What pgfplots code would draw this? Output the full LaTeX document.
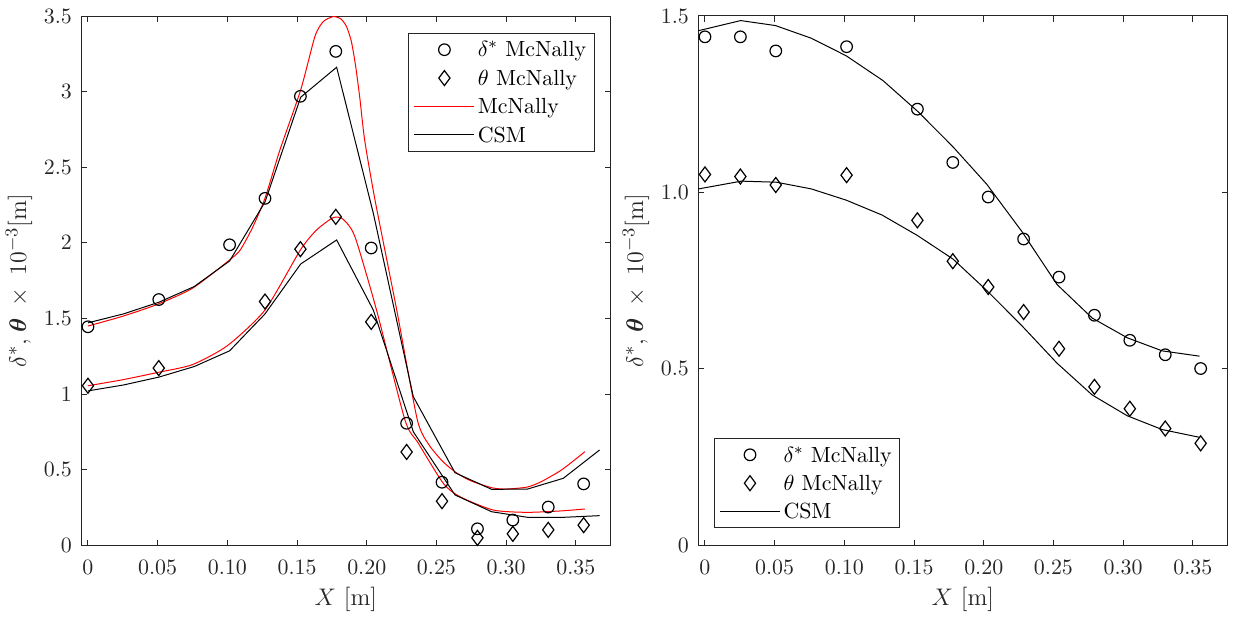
\documentclass[border=0pt]{standalone}
\usepackage{amsmath}
\usepackage{bm}
\usepackage{pgfplots}
\pgfplotsset{compat=1.18}
\definecolor{axgray}{gray}{0.15}
\pgfplotsset{
  mystyle/.style={
    width=264.85pt, height=264.65pt, scale only axis,
    xmin=-0.005, xmax=0.375, ymin=0,
    xtick={0,0.05,0.10,0.15,0.20,0.25,0.30,0.35},
    xticklabels={0,0.05,0.10,0.15,0.20,0.25,0.30,0.35},
    tick align=inside, major tick length=2.8pt,
    axis line style={axgray, line width=0.5pt},
    every tick/.style={axgray, line width=0.5pt},
    tick label style={text=axgray},
    xticklabel style={yshift=-3.3pt},
    yticklabel style={xshift=-0.7pt},
    xlabel={$X$ [m]},
    ylabel={$\delta^*$,\;$\bm{\theta}$\, $\times$\, $10^{-3}$[m]},
    xlabel style={at={(axis description cs:0.5,-0.1017)}, anchor=center, text=axgray, font=\fontsize{12.2}{14}\selectfont},
    ylabel style={at={(axis description cs:-0.117,0.5)}, anchor=center, text=axgray, font=\fontsize{12.2}{14}\selectfont},
    legend cell align=left,
    legend image code/.code={\draw[mark repeat=2,mark phase=2,##1] plot coordinates {(0pt,0pt) (15pt,0pt) (30pt,0pt)};},
    legend style={draw=axgray, line width=0.5pt, inner xsep=2.5pt, inner ysep=1pt, row sep=0pt,
      nodes={inner xsep=1.5pt, inner ysep=0pt, text height=10.7pt, text depth=3.5pt}},
  },
  circ/.style={only marks, mark=o, mark size=2.9pt, mark options={line width=0.6pt}, black},
  diam/.style={only marks, mark=diamond, mark size=3.75pt, mark options={line width=0.6pt}, black},
  redl/.style={red, line width=0.5pt, no marks, smooth, tension=0.4},
  blkl/.style={black, line width=0.5pt, no marks},
}
\begin{document}
\fontsize{10.95}{13}\selectfont
\begin{tikzpicture}
\useasboundingbox (0,0) rectangle (616.5pt,308.5pt);
\begin{axis}[mystyle, at={(40.5pt,35.85pt)}, anchor=south west,
  ymax=3.5, ytick={0,0.5,1,1.5,2,2.5,3,3.5},
  legend style={at={(1,1)}, anchor=north east, xshift=-8pt, yshift=-8.5pt}]
\addplot[circ] coordinates {
(0,1.445) (0.0508,1.625) (0.1016,1.987) (0.127,2.294) (0.1524,2.969) (0.1778,3.266)
(0.2032,1.966) (0.2286,0.807) (0.254,0.417) (0.2794,0.109) (0.3048,0.167) (0.3302,0.253) (0.3556,0.406)};
\addlegendentry{$\delta^*$ McNally}
\addplot[diam] coordinates {
(0,1.055) (0.0508,1.172) (0.127,1.612) (0.1524,1.958) (0.1778,2.172) (0.2032,1.477)
(0.2286,0.617) (0.254,0.292) (0.2794,0.049) (0.3048,0.076) (0.3302,0.102) (0.3556,0.133)};
\addlegendentry{$\theta$ McNally}
\addplot[redl] coordinates {
(0,1.45) (0.025,1.515) (0.05,1.594) (0.075,1.70) (0.10,1.875) (0.109,1.95) (0.118,2.10)
(0.127,2.295) (0.1377,2.614) (0.1526,3.011) (0.1628,3.364) (0.1688,3.463) (0.176,3.496)
(0.1815,3.48) (0.1855,3.43) (0.189,3.33) (0.192,3.17) (0.195,2.96) (0.1985,2.68) (0.2059,2.284)
(0.2215,1.556) (0.2363,0.829) (0.245,0.66) (0.255,0.55) (0.265,0.475) (0.275,0.425)
(0.29,0.38) (0.30,0.372) (0.315,0.385) (0.325,0.42) (0.34,0.50) (0.3565,0.619)};
\addlegendentry{McNally}
\addplot[blkl] coordinates {
(0,1.471) (0.0254,1.53) (0.0508,1.607) (0.0762,1.711) (0.1016,1.88) (0.127,2.27)
(0.1526,2.963) (0.1784,3.161) (0.2047,2.196) (0.2334,0.983) (0.2633,0.480) (0.2896,0.370)
(0.3154,0.372) (0.341,0.443) (0.367,0.630)};
\addlegendentry{CSM}
\addplot[redl, forget plot] coordinates {
(0,1.055) (0.025,1.095) (0.05,1.143) (0.075,1.195) (0.10,1.32) (0.127,1.556) (0.1524,1.953)
(0.164,2.085) (0.176,2.167) (0.183,2.156) (0.1915,2.041) (0.207,1.556) (0.2274,0.829)
(0.237,0.675) (0.2549,0.41) (0.2669,0.321) (0.2908,0.233) (0.3147,0.218) (0.3386,0.227) (0.3565,0.240)};
\addplot[blkl, forget plot] coordinates {
(0,1.021) (0.0254,1.06) (0.0508,1.112) (0.0762,1.182) (0.1016,1.286) (0.127,1.53)
(0.1526,1.860) (0.1784,2.019) (0.2047,1.556) (0.2334,0.751) (0.2633,0.333) (0.2896,0.222)
(0.3154,0.185) (0.341,0.185) (0.367,0.196)};
\end{axis}
\begin{axis}[mystyle, at={(349pt,35.85pt)}, anchor=south west,
  ymax=1.5, ytick={0,0.5,1,1.5}, yticklabels={0,0.5,1.0,1.5},
  legend style={at={(0,0)}, anchor=south west, xshift=8pt, yshift=8.5pt}]
\addplot[circ] coordinates {
(0,1.441) (0.0254,1.441) (0.0508,1.401) (0.1016,1.413) (0.1524,1.236) (0.1778,1.085)
(0.2032,0.987) (0.2286,0.868) (0.254,0.760) (0.2794,0.652) (0.3048,0.581) (0.3302,0.540) (0.3556,0.501)};
\addlegendentry{$\delta^*$ McNally}
\addplot[diam] coordinates {
(0,1.051) (0.0254,1.045) (0.0508,1.021) (0.1016,1.049) (0.1524,0.921) (0.1778,0.805)
(0.2032,0.732) (0.2286,0.661) (0.254,0.557) (0.2794,0.449) (0.3048,0.387) (0.3302,0.331) (0.3556,0.289)};
\addlegendentry{$\theta$ McNally}
\addplot[blkl] coordinates {
(-0.005,1.458) (0.0256,1.487) (0.0505,1.473) (0.0763,1.437) (0.1014,1.387) (0.1277,1.317)
(0.1528,1.229) (0.178,1.129) (0.2022,1.023) (0.2274,0.889) (0.2526,0.739) (0.2778,0.644)
(0.303,0.588) (0.328,0.551) (0.3548,0.536)};
\addlegendentry{CSM}
\addplot[blkl, forget plot] coordinates {
(-0.005,1.0097) (0.0261,1.032) (0.0512,1.029) (0.0763,1.010) (0.1014,0.978) (0.127,0.936)
(0.1524,0.878) (0.178,0.811) (0.2022,0.722) (0.2274,0.622) (0.2526,0.516) (0.2778,0.426)
(0.303,0.367) (0.328,0.328) (0.3548,0.306)};
\end{axis}
\end{tikzpicture}
\end{document}
